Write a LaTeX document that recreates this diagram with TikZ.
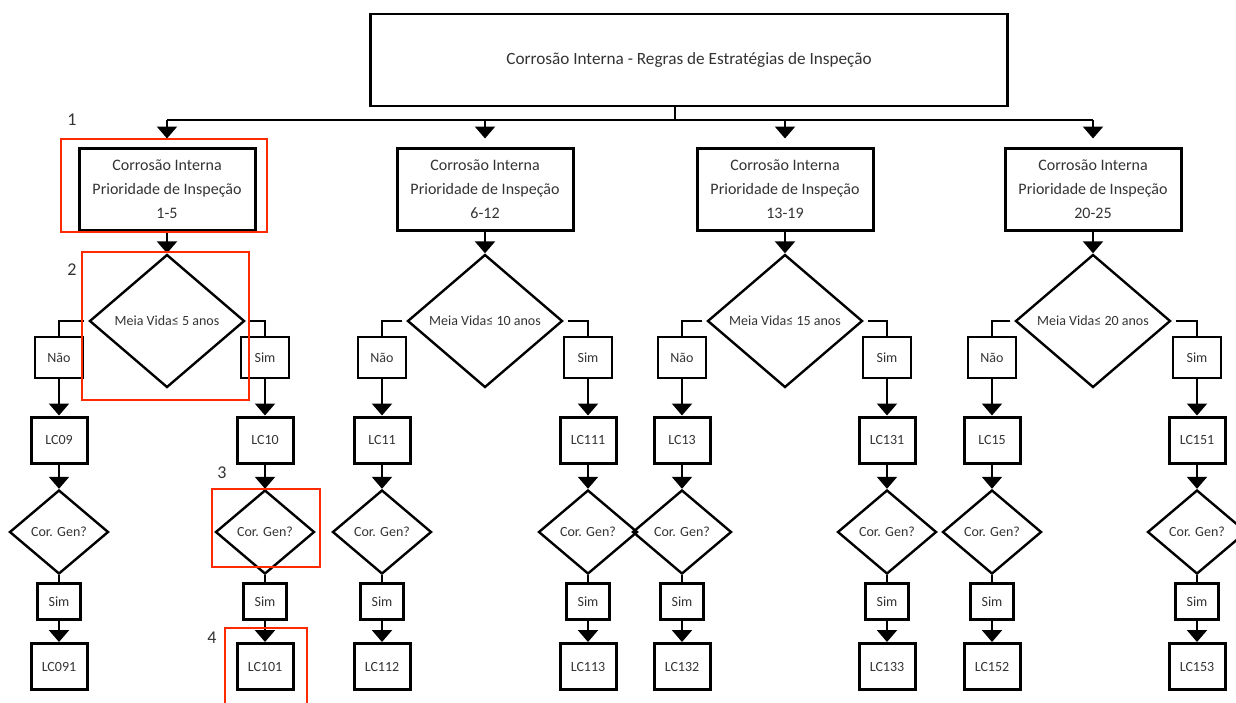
\documentclass[tikz,border=0pt]{standalone}
\usepackage{fontspec}
\setmainfont{Carlito}
\usetikzlibrary{shapes.geometric,arrows.meta}
\definecolor{hred}{HTML}{FF2A00}

\begin{document}
\begin{tikzpicture}[x=1pt, y=-1pt, line width=2.4pt,
  every node/.style={text=black!80, font=\fontsize{14}{16}\selectfont},
  head/.style={draw, minimum width=637pt, minimum height=92pt, font=\fontsize{17.2}{20}\selectfont},
  prio/.style={draw, line width=3pt, minimum width=176pt, minimum height=82pt, align=center, font=\fontsize{16}{24}\selectfont},
  half/.style={draw, diamond, aspect=1.17, inner sep=0pt, minimum width=155pt, minimum height=133pt},
  gen/.style={draw, diamond, aspect=1.18, inner sep=0pt, minimum width=99pt, minimum height=84pt},
  ans/.style={draw, inner sep=0pt, minimum width=48pt, minimum height=41pt},
  yes/.style={draw, inner sep=0pt, minimum width=43pt, minimum height=36pt},
  lc/.style={draw, line width=3pt, inner sep=0pt, minimum width=56pt, minimum height=46pt},
  flow/.style={-{Triangle[width=20pt,length=12pt]}},
  hilite/.style={draw=hred, line width=2pt},
  num/.style={font=\fontsize{18}{20}\selectfont}]
  \useasboundingbox (0,0) rectangle (1236,702);

  \node[head] (T) at (689,60) {Corrosão Interna - Regras de Estratégias de Inspeção};
  \coordinate (bus) at (675,120);

  \foreach \i/\cx/\lx/\rx/\rng/\yr/\la/\lb/\ra/\rb in {
      1/167/59/265/1-5/5/LC09/LC091/LC10/LC101,
      2/485/382/588/6-12/10/LC11/LC112/LC111/LC113,
      3/785/682/887/13-19/15/LC13/LC132/LC131/LC133,
      4/1093/992/1197/20-25/20/LC15/LC152/LC151/LC153}
  {
    \node[prio] (P\i) at (\cx,189) {Corrosão Interna\\Prioridade de Inspeção\\\rng};
    \node[half] (M\i) at (\cx,321) {Meia Vida≤ \yr\ anos};
    \node[ans] (N\i) at (\lx,357.5) {Não};
    \node[ans] (S\i) at (\rx,357.5) {Sim};
    \node[lc] (L\i) at (\lx,440) {\la};
    \node[lc] (R\i) at (\rx,440) {\ra};
    \node[gen] (GL\i) at (\lx,532) {Cor. Gen?};
    \node[gen] (GR\i) at (\rx,532) {Cor. Gen?};
    \node[yes] (YL\i) at (\lx,601.5) {Sim};
    \node[yes] (YR\i) at (\rx,601.5) {Sim};
    \node[lc] (FL\i) at (\lx,666.5) {\lb};
    \node[lc] (FR\i) at (\rx,666.5) {\rb};

    \draw[flow, shorten >=8pt] (P\i.north |- bus) -- (P\i.north);
    \draw[flow] (P\i) -- (M\i);
    \draw[shorten <=4pt] (M\i.west) -| (N\i);
    \draw[shorten <=4pt] (M\i.east) -| (S\i);
    \draw[flow] (N\i) -- (L\i);
    \draw[flow] (S\i) -- (R\i);
    \draw[flow] (L\i) -- (GL\i);
    \draw[flow] (R\i) -- (GR\i);
    \draw (GL\i) -- (YL\i);
    \draw (GR\i) -- (YR\i);
    \draw[flow] (YL\i) -- (FL\i);
    \draw[flow] (YR\i) -- (FR\i);
  }
  \draw (T.south -| bus) -- (bus);
  \draw (P1.north |- bus) -- (P4.north |- bus);

  \draw[hilite] (61,139) rectangle (267,232);
  \draw[hilite] (82,252) rectangle (249,400);
  \draw[hilite] (212,489) rectangle (320,567);
  \draw[hilite] (225,628) rectangle (307,712);
  \node[num] (n1) at (72,120) {1};
  \node[num] (n2) at (72,270) {2};
  \node[num] (n3) at (222,473) {3};
  \node[num] (n4) at (212,638) {4};
\end{tikzpicture}
\end{document}
